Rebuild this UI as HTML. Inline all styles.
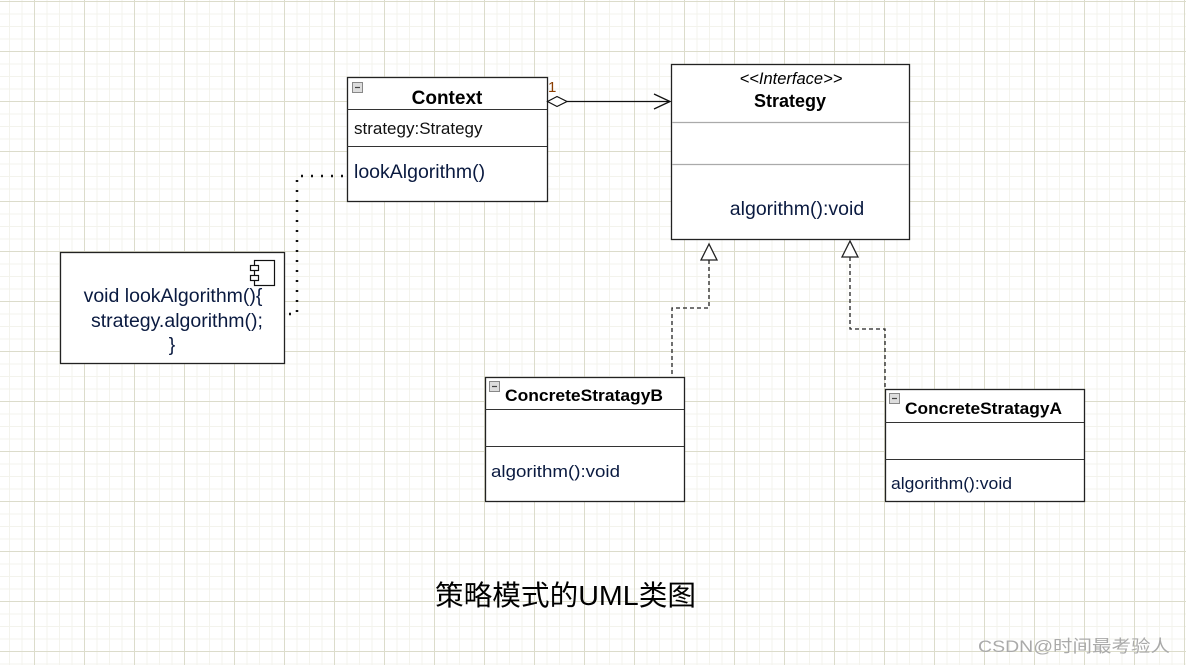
<!DOCTYPE html>
<html><head><meta charset="utf-8"><style>
html,body{margin:0;padding:0;}
body{width:1186px;height:665px;overflow:hidden;background-color:#fff;
background-image:
linear-gradient(to right,#dcdccb 1px,transparent 1px),
linear-gradient(to bottom,#dcdccb 1px,transparent 1px),
linear-gradient(to right,#f3f3ec 1px,transparent 1px),
linear-gradient(to bottom,#f3f3ec 1px,transparent 1px);
background-size:50px 50px,50px 50px,12.5px 12.5px,12.5px 12.5px;
background-position:34px 1px,34px 1px,34px 1px,34px 1px;}
svg{position:absolute;left:0;top:0;}
text{font-family:"Liberation Sans","Noto Sans CJK SC",sans-serif;}
</style></head><body>
<svg width="1186" height="665" xmlns="http://www.w3.org/2000/svg">
<g stroke="#222" stroke-width="1.3" fill="#fff">
<rect x="347.5" y="77.5" width="200" height="124"/>
<rect x="671.5" y="64.5" width="238" height="175"/>
<rect x="60.5" y="252.5" width="224" height="111"/>
<rect x="485.5" y="377.5" width="199" height="124"/>
<rect x="885.5" y="389.5" width="199" height="112"/>
</g>
<g stroke="#333" stroke-width="1">
<line x1="347" y1="109.5" x2="547" y2="109.5"/>
<line x1="347" y1="146.5" x2="547" y2="146.5"/>
<line x1="485" y1="409.5" x2="684" y2="409.5"/>
<line x1="485" y1="446.5" x2="684" y2="446.5"/>
<line x1="885" y1="422.5" x2="1084" y2="422.5"/>
<line x1="885" y1="459.5" x2="1084" y2="459.5"/>
</g>
<g stroke="#aaa" stroke-width="1.3">
<line x1="672" y1="122.5" x2="909" y2="122.5"/>
<line x1="672" y1="164.5" x2="909" y2="164.5"/>
</g>
<g fill="#ddd" stroke="#888" stroke-width="1">
<rect x="352.5" y="82.5" width="10" height="10"/>
<rect x="489.5" y="381.5" width="10" height="10"/>
<rect x="889.5" y="393.5" width="10" height="10"/>
</g>
<g stroke="#444" stroke-width="1.2">
<line x1="355" y1="87.5" x2="360" y2="87.5"/>
<line x1="492" y1="386.5" x2="497" y2="386.5"/>
<line x1="892" y1="398.5" x2="897" y2="398.5"/>
</g>
<g stroke="#111" stroke-width="1.2" fill="#fff">
<rect x="254.5" y="260.5" width="20" height="25"/>
<rect x="250.5" y="265.5" width="8" height="5"/>
<rect x="250.5" y="275.5" width="8" height="5"/>
</g>
<line x1="567" y1="101.5" x2="670" y2="101.5" stroke="#111" stroke-width="1.3"/>
<polygon points="547.5,101.5 557,96.5 567,101.5 557,106.5" fill="#fff" stroke="#111" stroke-width="1.2"/>
<polyline points="654,94 670,101.5 654,109" fill="none" stroke="#111" stroke-width="1.3"/>
<text x="548" y="92" font-size="15" fill="#8a3d00">1</text>
<polyline points="343,176 297,176 297,314 286,314" fill="none" stroke="#111" stroke-width="2.5" stroke-dasharray="2,8"/>
<polyline points="709,260 709,308 672,308 672,377" fill="none" stroke="#222" stroke-width="1.3" stroke-dasharray="4,3"/>
<polygon points="709,244 701,260 717,260" fill="#fff" stroke="#222" stroke-width="1.3"/>
<polyline points="850,257 850,329 885,329 885,389" fill="none" stroke="#222" stroke-width="1.3" stroke-dasharray="4,3"/>
<polygon points="850,241 842,257 858,257" fill="#fff" stroke="#222" stroke-width="1.3"/>
<text x="447" y="104" font-size="19" font-weight="bold" text-anchor="middle" fill="#000">Context</text>
<text x="354" y="134" font-size="17" fill="#111">strategy:Strategy</text>
<text x="354" y="178" font-size="19.5" fill="#0a1a40">lookAlgorithm()</text>
<text x="791" y="84" font-size="16.5" font-style="italic" text-anchor="middle" fill="#000">&lt;&lt;Interface&gt;&gt;</text>
<text x="790" y="107" font-size="18" font-weight="bold" text-anchor="middle" fill="#000">Strategy</text>
<text x="797" y="215" font-size="19.5" text-anchor="middle" fill="#0a1a40">algorithm():void</text>
<text x="173" y="302" font-size="19.5" text-anchor="middle" fill="#0a1a40">void lookAlgorithm(){</text>
<text x="177" y="327" font-size="19.5" text-anchor="middle" fill="#0a1a40">strategy.algorithm();</text>
<text x="172" y="351" font-size="19.5" text-anchor="middle" fill="#0a1a40">}</text>
<text x="505" y="401" font-size="17" font-weight="bold" fill="#000" textLength="158" lengthAdjust="spacingAndGlyphs">ConcreteStratagyB</text>
<text x="491" y="477" font-size="17" fill="#0a1a40" textLength="129" lengthAdjust="spacingAndGlyphs">algorithm():void</text>
<text x="905" y="414" font-size="17" font-weight="bold" fill="#000" textLength="157" lengthAdjust="spacingAndGlyphs">ConcreteStratagyA</text>
<text x="891" y="489" font-size="17" fill="#0a1a40" textLength="121" lengthAdjust="spacingAndGlyphs">algorithm():void</text>
<text x="435" y="605" font-size="28" fill="#000" textLength="261" lengthAdjust="spacingAndGlyphs">策略模式的UML类图</text>
<text x="978" y="652" font-size="17" fill="#aaa" textLength="192" lengthAdjust="spacingAndGlyphs">CSDN@时间最考验人</text>
</svg>
</body></html>
